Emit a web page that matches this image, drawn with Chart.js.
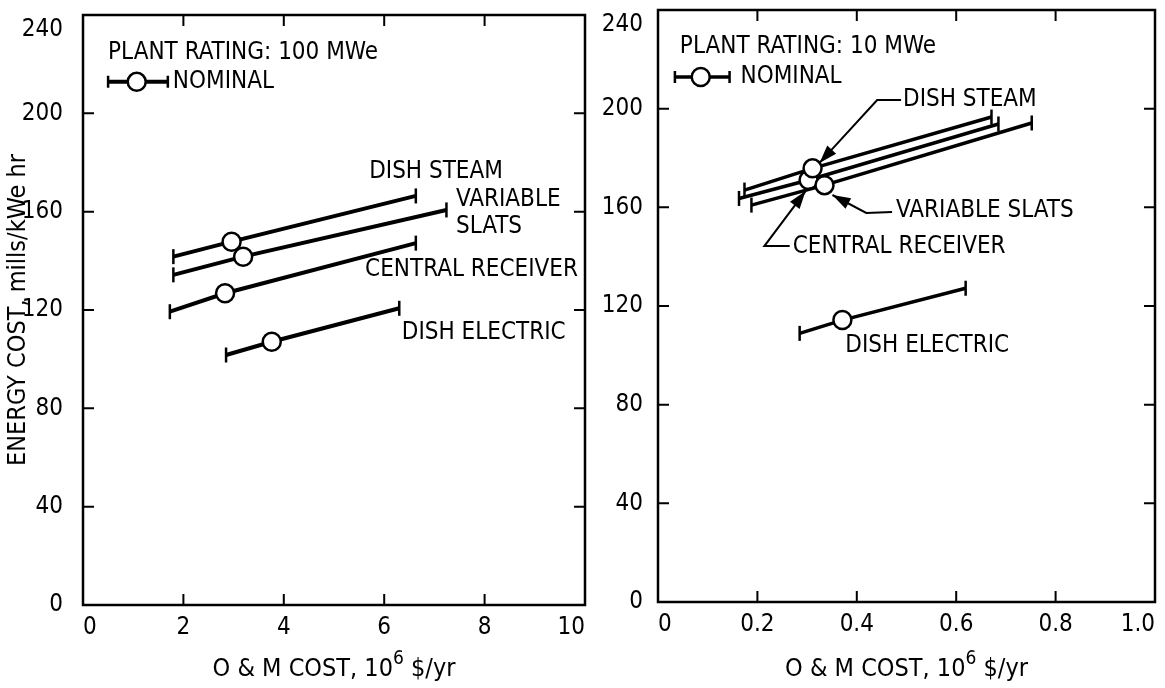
<!DOCTYPE html>
<html>
<head>
<meta charset="utf-8">
<script src="https://cdn.jsdelivr.net/npm/chart.js@4/dist/chart.umd.min.js"></script>
<style>
  body { margin: 0; background: #fff; }
  #left  { position: absolute; left: 0;     top: 0; width: 600px; height: 688px; }
  #right { position: absolute; left: 600px; top: 0; width: 565px; height: 688px; }
</style>
</head>
<body>
<div id="left"><canvas id="c100"></canvas></div>
<div id="right"><canvas id="c10"></canvas></div>
<script>
// axes
const yTicks  = [0, 40, 80, 120, 160, 200, 240];
const yLabels = ["0", "40", "80", "120", "160", "200", "240"];
const x100Ticks  = [0, 2, 4, 6, 8, 10];
const x100Labels = ["0", "2", "4", "6", "8", "10"];
const x10Ticks  = [0, 0.2, 0.4, 0.6, 0.8, 1.0];
const x10Labels = ["0", "0.2", "0.4", "0.6", "0.8", "1.0"];

const seriesNames = ["DISH STEAM", "VARIABLE SLATS", "CENTRAL RECEIVER", "DISH ELECTRIC"];

// 100 MWe plant: [low, nominal, high]  (O&M cost 10^6 $/yr -> energy cost mills/kWe hr)
const om100DishSteam    = [1.80, 2.96, 6.63];
const cost100DishSteam  = [141.7, 147.8, 166.4];
const om100VarSlats     = [1.80, 3.19, 7.24];
const cost100VarSlats   = [134.3, 141.7, 160.7];
const om100CentralRec   = [1.73, 2.83, 6.63];
const cost100CentralRec = [119.3, 126.8, 147.2];
const om100DishElec     = [2.85, 3.76, 6.30];
const cost100DishElec   = [101.7, 107.1, 120.7];

// 10 MWe plant
const om10DishSteam    = [0.174, 0.311, 0.671];
const cost10DishSteam  = [167.0, 175.8, 196.6];
const om10VarSlats     = [0.188, 0.335, 0.752];
const cost10VarSlats   = [160.9, 169.0, 194.2];
const om10CentralRec   = [0.163, 0.303, 0.685];
const cost10CentralRec = [163.6, 171.1, 193.8];
const om10DishElec     = [0.285, 0.371, 0.619];
const cost10DishElec   = [108.9, 114.3, 127.2];

// text notes placed in data units
const notes100 = [
  ["PLANT RATING: 100 MWe", 0.50, 224.6],
  ["NOMINAL", 1.79, 212.8],
  ["DISH STEAM", 5.70, 176.2],
  ["VARIABLE", 7.43, 164.8],
  ["SLATS", 7.43, 153.8],
  ["CENTRAL RECEIVER", 5.62, 136.3],
  ["DISH ELECTRIC", 6.35, 110.7]
];
const key100 = [0.50, 1.07, 1.69, 212.8];
const leaders100 = [];

const notes10 = [
  ["PLANT RATING: 10 MWe", 0.044, 225.0],
  ["NOMINAL", 0.166, 212.8],
  ["DISH STEAM", 0.493, 203.5],
  ["VARIABLE SLATS", 0.479, 158.5],
  ["CENTRAL RECEIVER", 0.271, 143.9],
  ["DISH ELECTRIC", 0.377, 103.8]
];
const key10 = [0.034, 0.086, 0.144, 212.8];
const leaders10 = [
  [[0.489, 203.5], [0.441, 203.5], [0.325, 178.0]],
  [[0.471, 158.1], [0.419, 157.7], [0.351, 165.0]],
  [[0.265, 144.3], [0.214, 144.3], [0.297, 166.6]]
];

const FONT = '"DejaVu Sans Condensed", "DejaVu Sans", sans-serif';
const TICK_FONT = { family: '"Liberation Sans Narrow", "DejaVu Sans Condensed", sans-serif', size: 24 };
const TITLE_FONT = { family: FONT, size: 25 };

const pts = (xs, ys) => xs.map((x, i) => ({ x, y: ys[i] }));

function ds(label, xs, ys, lw){
  return {
    label, data: pts(xs, ys),
    borderColor: "#000", borderWidth: lw,
    pointStyle: c => c.dataIndex === 1 ? "circle" : "line",
    pointRotation: c => c.dataIndex === 1 ? 0 : 90,
    pointRadius: c => c.dataIndex === 1 ? 9 : 7.5,
    pointBorderWidth: c => c.dataIndex === 1 ? 2.5 : 2.5,
    pointBackgroundColor: "#fff", pointBorderColor: "#000",
    tension: 0, fill: false
  };
}

// box + inward ticks on all four sides
const framePlugin = {
  id: "frame",
  afterDatasetsDraw(chart){
    const { ctx, chartArea: a, scales } = chart;
    ctx.save();
    ctx.strokeStyle = "#000";
    ctx.lineWidth = 2.5;
    ctx.strokeRect(a.left, a.top, a.right - a.left, a.bottom - a.top);
    ctx.lineWidth = 2;
    const L = 11;
    ctx.beginPath();
    for (const t of scales.x.ticks){
      const px = scales.x.getPixelForValue(t.value);
      if (px <= a.left + 2 || px >= a.right - 2) continue;
      ctx.moveTo(px, a.bottom); ctx.lineTo(px, a.bottom - L);
      ctx.moveTo(px, a.top); ctx.lineTo(px, a.top + L);
    }
    for (const t of scales.y.ticks){
      const py = scales.y.getPixelForValue(t.value);
      if (py <= a.top + 2 || py >= a.bottom - 2) continue;
      ctx.moveTo(a.left, py); ctx.lineTo(a.left + L, py);
      ctx.moveTo(a.right, py); ctx.lineTo(a.right - L, py);
    }
    ctx.stroke();

    // x title with a real superscript
    const parts = [["O & M COST, 10", 25, 0], ["6", 19, -12], [" $/yr", 25, 0]];
    let w = 0;
    for (const [t, s] of parts){ ctx.font = s + "px " + FONT; w += ctx.measureText(t).width; }
    let px = (a.left + a.right) / 2 - w / 2;
    ctx.fillStyle = "#000"; ctx.textBaseline = "alphabetic"; ctx.textAlign = "left";
    for (const [t, s, dy] of parts){
      ctx.font = s + "px " + FONT;
      ctx.fillText(t, px, 676 + dy);
      px += ctx.measureText(t).width;
    }
    ctx.restore();
  }
};

// labels, legend sample, leader arrows
const notesPlugin = {
  id: "notes",
  afterDatasetsDraw(chart, args, opts){
    const { ctx, scales: { x, y } } = chart;
    const X = v => x.getPixelForValue(v), Y = v => y.getPixelForValue(v);
    ctx.save();
    ctx.fillStyle = "#000"; ctx.strokeStyle = "#000";
    ctx.font = "24px " + FONT;
    ctx.textAlign = "left"; ctx.textBaseline = "middle";
    for (const [t, vx, vy] of opts.notes) ctx.fillText(t, X(vx), Y(vy));

    // legend sample
    const [k0, kc, k1, ky] = opts.key;
    ctx.lineWidth = opts.lw;
    ctx.beginPath(); ctx.moveTo(X(k0), Y(ky)); ctx.lineTo(X(k1), Y(ky)); ctx.stroke();
    ctx.lineWidth = 2.5;
    ctx.beginPath();
    ctx.moveTo(X(k0), Y(ky) - 6); ctx.lineTo(X(k0), Y(ky) + 6);
    ctx.moveTo(X(k1), Y(ky) - 6); ctx.lineTo(X(k1), Y(ky) + 6);
    ctx.stroke();
    ctx.beginPath(); ctx.arc(X(kc), Y(ky), 9, 0, Math.PI * 2);
    ctx.fillStyle = "#fff"; ctx.fill(); ctx.stroke();
    ctx.fillStyle = "#000";

    for (const line of opts.leaders){
      const p = line.map(([a, b]) => [X(a), Y(b)]);
      ctx.lineWidth = 2;
      ctx.beginPath();
      p.forEach(([px, py], i) => i ? ctx.lineTo(px, py) : ctx.moveTo(px, py));
      ctx.stroke();
      const [tx, ty] = p[p.length - 1], [fx, fy] = p[p.length - 2];
      const ang = Math.atan2(ty - fy, tx - fx);
      const len = 18, w = 6;
      ctx.beginPath();
      ctx.moveTo(tx, ty);
      ctx.lineTo(tx - len * Math.cos(ang) + w * Math.sin(ang), ty - len * Math.sin(ang) - w * Math.cos(ang));
      ctx.lineTo(tx - len * Math.cos(ang) - w * Math.sin(ang), ty - len * Math.sin(ang) + w * Math.cos(ang));
      ctx.closePath(); ctx.fill();
    }
    ctx.restore();
  }
};

function makeChart(id, datasets, o){
  return new Chart(document.getElementById(id), {
    type: "line",
    data: { datasets },
    plugins: [framePlugin, notesPlugin],
    options: {
      responsive: true, maintainAspectRatio: false, animation: false,
      layout: { padding: { left: 0, right: o.padRight, top: o.padTop, bottom: 0 } },
      plugins: {
        legend: { display: false }, tooltip: { enabled: false },
        notes: { notes: o.notes, key: o.key, leaders: o.leaders, lw: o.lw }
      },
      scales: {
        x: {
          type: "linear", min: o.xTicks[0], max: o.xTicks[o.xTicks.length - 1],
          grid: { display: false }, border: { display: false },
          afterBuildTicks: s => { s.ticks = o.xTicks.map(v => ({ value: v })); },
          afterFit: s => { s.height = o.xHeight; s.paddingLeft = 0; s.paddingRight = 0; },
          ticks: { align: "inner", padding: 0, color: "#000", font: TICK_FONT, maxRotation: 0, autoSkip: false,
                   callback: (v, i) => o.xLabels[i] },
          title: { display: false }
        },
        y: {
          type: "linear", min: 0, max: 240,
          grid: { display: false }, border: { display: false },
          afterBuildTicks: s => { s.ticks = yTicks.map(v => ({ value: v })); },
          afterFit: s => { s.width = o.yWidth; s.paddingTop = 0; s.paddingBottom = 0; },
          // top label sits a little below its tick, as in the original
          ticks: { padding: o.yPad, color: "#000", font: TICK_FONT, autoSkip: false,
                   callback: (v, i) => i === yLabels.length - 1 ? ["", yLabels[i]] : yLabels[i] },
          title: { display: o.yTitle, text: "ENERGY COST, mills/kWe hr", color: "#000", font: TITLE_FONT,
                   padding: { top: 3, bottom: 0 } }
        }
      }
    }
  });
}

makeChart("c100", [
  ds(seriesNames[0], om100DishSteam, cost100DishSteam, 4),
  ds(seriesNames[1], om100VarSlats, cost100VarSlats, 4),
  ds(seriesNames[2], om100CentralRec, cost100CentralRec, 4),
  ds(seriesNames[3], om100DishElec, cost100DishElec, 4)
], { xTicks: x100Ticks, xLabels: x100Labels, yWidth: 83, xHeight: 83, padTop: 15, padRight: 15, yPad: 12,
     yTitle: true, notes: notes100, key: key100, leaders: leaders100, lw: 4 });

makeChart("c10", [
  ds(seriesNames[0], om10DishSteam, cost10DishSteam, 3.5),
  ds(seriesNames[1], om10VarSlats, cost10VarSlats, 3.5),
  ds(seriesNames[2], om10CentralRec, cost10CentralRec, 3.5),
  ds(seriesNames[3], om10DishElec, cost10DishElec, 3.5)
], { xTicks: x10Ticks, xLabels: x10Labels, yWidth: 58, xHeight: 86, padTop: 10, padRight: 8, yPad: 7,
     yTitle: false, notes: notes10, key: key10, leaders: leaders10, lw: 3.5 });
</script>
</body>
</html>
